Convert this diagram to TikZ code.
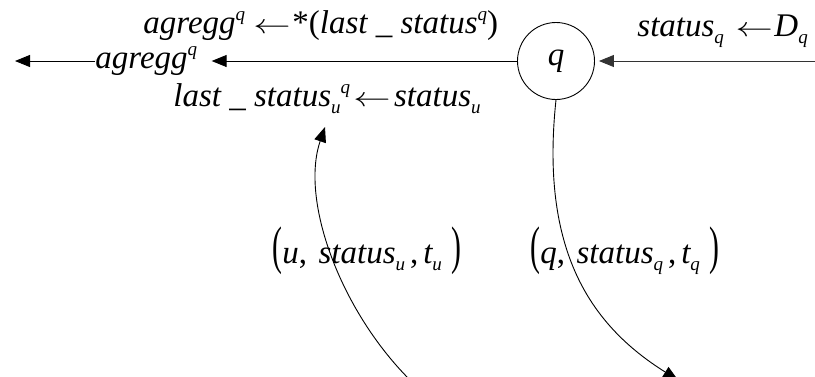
\documentclass[tikz,border=0pt]{standalone}
\usepackage{fontspec}
\setmainfont{Liberation Serif}
\usepackage{graphicx}
\usetikzlibrary{arrows.meta,calc}
\newcommand\Sb[1]{\raisebox{-0.22em}{\fontsize{19}{19}\selectfont\itshape #1}}
\newcommand\Sp[1]{\raisebox{0.38em}{\fontsize{19}{19}\selectfont\itshape #1}}
\newcommand\Bp[1]{\scalebox{0.9}[1.6]{\upshape #1}}
\newcommand\Up[1]{{\upshape #1}}
\newcommand\La{\scalebox{1.5}[1.1]{\ensuremath{\leftarrow}}}
\begin{document}
\begin{tikzpicture}[x=1pt,y=-1pt,line width=0.9pt,
  lbl/.style={anchor=base west,inner sep=0pt,font=\fontsize{33}{38}\selectfont\itshape},
  arr/.style={-{Triangle[length=15pt,width=12pt]}},
  state/.style={circle,draw,minimum size=77pt,inner sep=0pt,font=\fontsize{33}{38}\selectfont\itshape}]
\useasboundingbox (0,0) rectangle (815,376);
\clip (0,0) rectangle (815,376);
% nodes
\node[state] (q) at (556,61) {\raisebox{-3pt}{q}};
\node[lbl] (T1) at (143,33) {agregg\Sp{q}\hspace{0.25em}\La\hspace{0.05em}\Up{*(}last \_ status\Sp{q}\Up{)}};
\node[lbl] (T2) at (95,68) {agregg\Sp{q}};
\node[lbl] (T3) at (173,106) {last \_ status\Sb{u}\Sp{q}\hspace{0.1em}\La\hspace{0.1em}status\Sb{u}};
\node[lbl] (T4) at (637,36) {status\Sb{q}\hspace{0.35em}\La\hspace{0.05em}D\Sb{q}};
\node[lbl] (T5) at (272,263) {\Bp{(}u\Up{,}\hspace{0.35em}status\Sb{u}\hspace{0.15em}\Up{,}\hspace{0.15em}t\Sb{u}\hspace{0.3em}\Bp{)}};
\node[lbl] (T6) at (530,263) {\Bp{(}q\Up{,}\hspace{0.35em}status\Sb{q}\hspace{0.15em}\Up{,}\hspace{0.15em}t\Sb{q}\hspace{0.3em}\Bp{)}};
% free ends
\coordinate (out) at (15,61);
\coordinate (in) at (815,61);
\coordinate (ub) at (410,380);
\coordinate (ut) at (325,127);
\coordinate (qb) at (678,380);
% connectors
\draw[arr] (q.west) -- ($(q.west -| T2.east)+(14,0)$);
\draw[arr] (T2.west |- q.west) -- (out);
\draw[arr,draw=black!80] (in) -- ([xshift=4pt]q.east);
\draw[arr] (ub) .. controls (340,310) and (300,200) .. (ut);
\draw[arr] (q.south) .. controls (540,250) and (590,325) .. (qb);
\end{tikzpicture}
\end{document}
